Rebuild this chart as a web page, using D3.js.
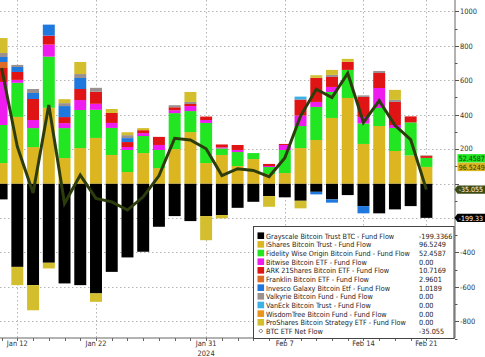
<!DOCTYPE html>
<html><head><meta charset="utf-8">
<script src="https://cdn.jsdelivr.net/npm/d3@7"></script>
<style>
body{margin:0;background:#fff}
svg{display:block}
</style>
</head><body>
<svg id="c" width="485" height="357"></svg>
<script>
// ---------- DATA ----------
const dates = ["2024-01-11","2024-01-12","2024-01-16","2024-01-17","2024-01-18","2024-01-19","2024-01-22","2024-01-23","2024-01-24","2024-01-25","2024-01-26","2024-01-29","2024-01-30","2024-01-31","2024-02-01","2024-02-02","2024-02-05","2024-02-06","2024-02-07","2024-02-08","2024-02-09","2024-02-12","2024-02-13","2024-02-14","2024-02-15","2024-02-16","2024-02-20","2024-02-21"];

const grayscale = [-92,-484,-590,-460,-580,-590,-638,-513,-429,-396,-251,-189,-218,-189,-183,-141,-106,-73,-80,-100,-48,-92,-67,-131,-173,-150,-131,-199.3366];
const ishares   = [119,387,212,440,148,206,265,166,67,177,90,200,299,119,166,102,142,55,61,206,253,381,497,230,334,189,163,96.5249];
const fidelity  = [221,198,110,297,174,221,163,157,128,99,105,209,122,233,38,81,35,41,134,128,192,151,163,119,105,134,192,52.4587];
const bitwise   = [250,17,47,70,29,58,35,29,17,17,29,17,29,17,6,12,0,6,29,61,29,29,0,38,116,17,0,0];
const ark       = [81,46,122,52,35,64,70,58,29,17,47,17,12,20,17,29,0,12,6,93,140,58,47,116,87,134,35,10.7169];
const franklin  = [35,0,0,0,0,0,0,0,0,0,0,0,0,0,0,0,0,0,0,0,0,0,0,0,0,0,0,2.9601];
const invesco   = [29,29,35,64,64,64,0,0,23,0,0,0,0,0,0,0,0,0,0,0,-15,-19,0,-42,0,0,0,1.0189];
const valkyrie  = [23,12,23,0,17,23,23,0,17,0,0,12,12,0,0,0,0,0,0,0,0,12,0,9,12,12,0,0];
const vaneck    = [0,0,0,0,0,0,0,0,0,0,0,0,0,0,0,0,0,0,0,17,0,0,0,0,0,0,0,0];
const wisdomtree= [0,0,0,0,0,0,0,0,0,0,0,0,0,0,0,0,0,0,0,0,0,0,0,0,0,0,0,0];
const proshares = [87,-106,-146,-33,23,70,-49,23,17,12,0,0,58,-140,-19,0,0,-62,0,-44,15,29,17,0,0,58,0,0];
const netFlow   = [671,214,-55,456,-116,49,-86,-106,-154,-77,45,263,253,202,46,86,76,40,148,392,548,500,641,355,481,338,255,-35.055];

const seriesNames = ["Grayscale Bitcoin Trust BTC - Fund Flow","iShares Bitcoin Trust - Fund Flow","Fidelity Wise Origin Bitcoin Fund - Fund Flow","Bitwise Bitcoin ETF - Fund Flow","ARK 21Shares Bitcoin ETF - Fund Flow","Franklin Bitcoin ETF - Fund Flow","Invesco Galaxy Bitcoin Etf - Fund Flow","Valkyrie Bitcoin Fund - Fund Flow","VanEck Bitcoin Trust - Fund Flow","WisdomTree Bitcoin Fund - Fund Flow","ProShares Bitcoin Strategy ETF - Fund Flow"];
const lineName = "BTC ETF Net Flow";
const legendValues = ["-199.3366","96.5249","52.4587","0.00","10.7169","2.9601","1.0189","0.00","0.00","0.00","0.00","-35.055"];
const tagTexts = ["52.4587","96.5249","-35.055","-199.33"];

// labels shown on the right axis (0 and -200 sit under the value tags)
const yTickValues = [-800,-600,-400,-200,0,200,400,600,800,1000];
const yLabelValues = [-800,-600,-400,200,400,600,800,1000];
const yMinorValues = [-900,-700,-500,-300,-100,100,300,500,700,900];
const xTickDates = ["2024-01-12","2024-01-22","2024-01-31","2024-02-07","2024-02-14","2024-02-21"];
const xTickLabels = ["Jan 12","Jan 22","Jan 31","Feb 7","Feb 14","Feb 21"];
const yearLabel = "2024";
const yearAt = "2024-01-31";

// ---------- STYLE ----------
const colors = ["#000000","#dbb621","#22e622","#ee1cee","#e01414","#dd6c26","#1f78dd","#9b9090","#3ab2e6","#e8951e","#d3bf2e"];
const lineColor = "#2d3c0c";
const W = 485, H = 357, axisX = 455, axisY = 338;
const FAMILY = "'Liberation Sans Narrow','DejaVu Sans Condensed','Liberation Sans',Arial,sans-serif";

// font size fitting: text natural width should equal target (capped at maxSize)
const cnv = document.createElement("canvas").getContext("2d");
function fitSize(txt, target, maxSize){
  cnv.font = `10px ${FAMILY}`;
  const w = cnv.measureText(txt).width;
  return Math.min(maxSize, 10*target/w);
}

// ---------- BUILD ----------
const seriesArrays = [grayscale,ishares,fidelity,bitwise,ark,franklin,invesco,valkyrie,vaneck,wisdomtree,proshares];
const keys = seriesNames.map((n,i)=>"s"+i);
const rows = dates.map((d,i)=>{const r={date:d}; seriesArrays.forEach((a,k)=>r[keys[k]]=a[i]); return r;});

const svg = d3.select("#c").style("font-family",FAMILY);

const step0 = 424.8/27;
const x = d3.scaleBand().domain(dates)
  .range([1.6 - step0/2, 426.4 + step0/2]).paddingInner(0.24).paddingOuter(0.12);
const y = d3.scaleLinear().domain([-897,1066]).range([axisY,0]);
const cx = d => x(d) + x.bandwidth()/2;

// grid
const grid = svg.append("g").attr("stroke","#b4b4b4").attr("stroke-width",1).attr("stroke-dasharray","1.5,2.5");
grid.selectAll("line.h").data(yTickValues).join("line")
  .attr("x1",0).attr("x2",axisX).attr("y1",d=>Math.round(y(d))+0.5).attr("y2",d=>Math.round(y(d))+0.5);
grid.selectAll("line.v").data(xTickDates).join("line")
  .attr("x1",d=>Math.round(cx(d))+0.5).attr("x2",d=>Math.round(cx(d))+0.5)
  .attr("y1",0).attr("y2",axisY);

// bars
const stacked = d3.stack().keys(keys).offset(d3.stackOffsetDiverging)(rows);
svg.append("g").selectAll("g").data(stacked).join("g")
  .attr("fill",(d,i)=>colors[i])
  .selectAll("rect").data(d=>d).join("rect")
  .attr("x",d=>x(d.data.date)).attr("width",x.bandwidth())
  .attr("y",d=>y(Math.max(d[0],d[1]))).attr("height",d=>Math.abs(y(d[0])-y(d[1])));

// net flow line
svg.append("path").datum(netFlow)
  .attr("fill","none").attr("stroke",lineColor).attr("stroke-width",3).attr("stroke-linejoin","miter")
  .attr("d",d3.line().x((d,i)=>cx(dates[i])).y(d=>y(d)));

// axis label size
const axisFs = fitSize("Jan 12", 21, 8.6);

// bottom axis
const xb = svg.append("g").attr("transform",`translate(0,${axisY})`);
xb.append("line").attr("x1",0).attr("x2",axisX).attr("stroke","#666");
xb.selectAll("line.t").data(dates).join("line").attr("class","t")
  .attr("x1",d=>Math.round(cx(d))+0.5).attr("x2",d=>Math.round(cx(d))+0.5)
  .attr("y1",0).attr("y2",3).attr("stroke","#666");
xb.selectAll("text").data(xTickDates).join("text")
  .attr("x",d=>cx(d)).attr("y",8.3).attr("text-anchor","middle")
  .attr("font-size",axisFs).attr("fill","#333").text((d,i)=>xTickLabels[i]);
xb.append("text").attr("x",cx(yearAt)).attr("y",17.6).attr("text-anchor","middle")
  .attr("font-size",axisFs).attr("fill","#333").text(yearLabel);

// right axis
const ya = svg.append("g").attr("transform",`translate(${axisX},0)`);
ya.append("line").attr("y1",0).attr("y2",axisY).attr("stroke","#666");
ya.selectAll("line.mj").data(yTickValues).join("line")
  .attr("y1",d=>Math.round(y(d))+0.5).attr("y2",d=>Math.round(y(d))+0.5).attr("x1",0).attr("x2",4).attr("stroke","#555");
ya.selectAll("line.mn").data(yMinorValues).join("line")
  .attr("y1",d=>Math.round(y(d))+0.5).attr("y2",d=>Math.round(y(d))+0.5).attr("x1",0).attr("x2",2.5).attr("stroke","#555");
ya.selectAll("text").data(yLabelValues).join("text")
  .attr("x",5).attr("y",d=>y(d)+(d===200?1.8:3)).attr("font-size",axisFs).attr("fill","#333")
  .text(d=>d);

// value tags on the right
const tagFs = fitSize("-199.33", 24.5, 8.4);
function tag(yc,bg,fg,txt,arrow){
  const g = svg.append("g");
  const h = 8.4, x0 = 457.5;
  if(arrow){
    g.append("path").attr("d",`M${x0-3},${yc} L${x0},${yc-h/2} L${W+5},${yc-h/2} L${W+5},${yc+h/2} L${x0},${yc+h/2} Z`).attr("fill",bg);
  } else {
    g.append("rect").attr("x",x0).attr("y",yc-h/2).attr("width",W-x0+5).attr("height",h).attr("fill",bg);
  }
  g.append("text").attr("x",x0+1.2).attr("y",yc+2.9).attr("font-size",tagFs).attr("fill",fg).text(txt);
}
const yGold = y(ishares[ishares.length-1]);
tag(yGold-8.6, colors[2], "#1f3a05", tagTexts[0], false);
tag(yGold, colors[1], "#3a2f00", tagTexts[1], false);
tag(y(netFlow[netFlow.length-1]), "#3c4b14", "#ffffff", tagTexts[2], true);
tag(y(grayscale[grayscale.length-1]), "#000000", "#ffffff", tagTexts[3], true);

// legend
const legFs = fitSize(seriesNames[2], 144, 8.6);
const lg = svg.append("g");
const lx = 253.5, ly = 226.5, lw = 200.5, lh = 112;
lg.append("rect").attr("x",lx).attr("y",ly).attr("width",lw).attr("height",lh)
  .attr("fill","#fff").attr("stroke","#444").attr("stroke-width",1);
const rowStep = 8.66, row0 = 235.7;
const legendItems = seriesNames.concat([lineName]);
legendItems.forEach((name,i)=>{
  const yc = row0 + i*rowStep;
  if(i < seriesNames.length){
    lg.append("rect").attr("x",257.5).attr("y",yc-3.3).attr("width",6.6).attr("height",6.6).attr("fill",colors[i]);
  } else {
    lg.append("path").attr("d",`M${260.8},${yc-2} L${262.8},${yc} L${260.8},${yc+2} L${258.8},${yc} Z`)
      .attr("fill","#fff").attr("stroke","#666").attr("stroke-width",0.8);
  }
  lg.append("text").attr("x",266).attr("y",yc+2.9).attr("font-size",legFs).attr("fill","#222").text(name);
  lg.append("text").attr("x",419).attr("y",yc+2.9).attr("font-size",legFs).attr("fill","#222").text(legendValues[i]);
});
</script>
</body></html>
